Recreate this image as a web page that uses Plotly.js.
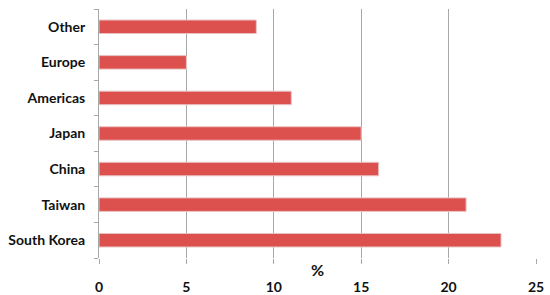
<!DOCTYPE html>
<html>
<head>
<meta charset="utf-8">
<script src="https://cdn.plot.ly/plotly-3.0.1.min.js"></script>
<style>
  body { margin: 0; background: #fff; }
  #chart { width: 550px; height: 295px; }
</style>
</head>
<body>
<div id="chart"></div>
<script>
// regions, bottom to top as drawn
const regions = ['South Korea', 'Taiwan', 'China', 'Japan', 'Americas', 'Europe', 'Other']
const shares = [23, 21, 16, 15, 11, 5, 9]
const xTicks = [0, 5, 10, 15, 20, 25]

const labelFont = {family: 'Lato, Open Sans, sans-serif', size: 14, color: '#111'}

const trace = {
  type: 'bar',
  orientation: 'h',
  y: regions,
  x: shares,
  marker: {
    color: '#dc504e',
    line: {color: '#e9c4c4', width: 1}
  },
  hoverinfo: 'x+y'
}

const layout = {
  width: 550,
  height: 295,
  margin: {l: 99, r: 14, t: 9, b: 37},
  paper_bgcolor: '#fff',
  plot_bgcolor: '#fff',
  showlegend: false,
  bargap: 0.62,
  font: labelFont,
  xaxis: {
    range: [0, 25],
    tickvals: xTicks,
    showgrid: true,
    gridcolor: '#a8a8a8',
    gridwidth: 1,
    zeroline: false,
    showline: false,
    ticks: 'outside',
    ticklen: 5,
    tickcolor: '#a8a8a8',
    ticklabelstandoff: 11,
    tickfont: {family: labelFont.family, size: 14, color: '#111', weight: 'bold'}
  },
  yaxis: {
    showgrid: false,
    zeroline: false,
    showline: true,
    linecolor: '#a8a8a8',
    ticks: 'outside',
    ticklen: 4,
    tickcolor: '#a8a8a8',
    tickson: 'boundaries',
    ticklabelstandoff: 10,
    tickfont: {family: labelFont.family, size: 14, color: '#111', weight: 'bold'}
  },
  annotations: [{
    text: '<b>%</b>',
    xref: 'paper', yref: 'paper',
    x: 0.5, y: 0,
    yshift: -23,
    showarrow: false,
    font: {family: labelFont.family, size: 16, color: '#111'}
  }]
}

Plotly.newPlot('chart', [trace], layout, {staticPlot: true})
</script>
</body>
</html>
